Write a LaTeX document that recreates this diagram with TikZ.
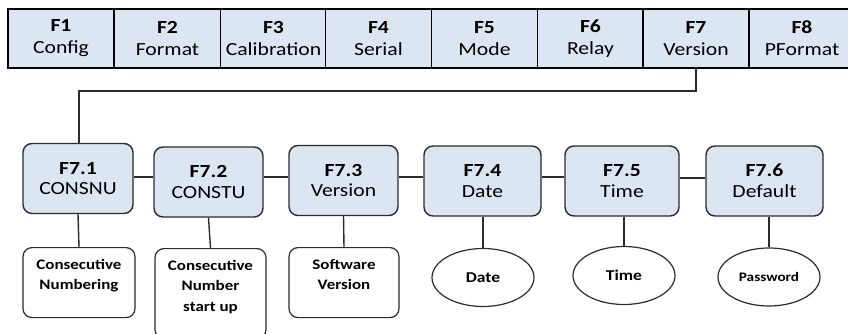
\documentclass[tikz,border=0pt]{standalone}
\usepackage{fontspec}
\setmainfont{Carlito}[FakeStretch=1.17]
\usetikzlibrary{shapes.geometric}
\definecolor{cellfill}{HTML}{DCE6F2}
\definecolor{edge}{HTML}{2B2B2B}
\tikzset{
  topcell/.style={draw=black, line width=1.4pt, fill=cellfill, minimum width=106pt, minimum height=59pt, inner sep=0pt, align=center, font=\fontsize{18.5}{22}\selectfont},
  subbox/.style={draw=edge, line width=1.4pt, fill=cellfill, rounded corners=9pt, minimum height=70pt, inner sep=0pt, align=center, font=\fontsize{18.5}{20.5}\selectfont},
  leafbox/.style={draw=edge, line width=1.2pt, fill=white, rounded corners=9pt, inner sep=0pt, align=center},
  leaftext/.style={anchor=north, font=\bfseries\fontsize{14.5}{20.5}\selectfont, align=center, inner sep=0pt},
  leafoval/.style={draw=edge, line width=1.2pt, fill=white, ellipse, minimum width=102pt, minimum height=58pt, inner sep=0pt, align=center, font=\bfseries\fontsize{15}{16}\selectfont},
  link/.style={draw=edge, line width=1.4pt}
}
\begin{document}
\begin{tikzpicture}[x=1pt,y=-1pt]
\useasboundingbox (0,0) rectangle (848,334);
\clip (0,0) rectangle (848,334);
% top bar
\node[topcell] (f1) at (61,38.5) {\textbf{F1}\\Config};
\node[topcell] (f2) at (167.5,38.5) {\textbf{F2}\\Format};
\node[topcell] (f3) at (273.5,38.5) {\textbf{F3}\\Calibration};
\node[topcell] (f4) at (378.5,38.5) {\textbf{F4}\\Serial};
\node[topcell] (f5) at (484.5,38.5) {\textbf{F5}\\Mode};
\node[topcell] (f6) at (590.5,38.5) {\textbf{F6}\\Relay};
\node[topcell] (f7) at (696,38.5) {\textbf{F7}\\Version};
\node[topcell] (f8) at (802,38.5) {\textbf{F8}\\PFormat};
% second row
\node[subbox, minimum width=110pt] (s1) at (78,178.5) {\textbf{F7.1}\\CONSNU};
\node[subbox, minimum width=109pt] (s2) at (208.5,182) {\textbf{F7.2}\\CONSTU};
\node[subbox, minimum width=109pt] (s3) at (343.5,180.5) {\textbf{F7.3}\\Version};
\node[subbox, minimum width=117pt] (s4) at (482.5,181) {\textbf{F7.4}\\Date};
\node[subbox, minimum width=114pt] (s5) at (622,181) {\textbf{F7.5}\\Time};
\node[subbox, minimum width=117pt] (s6) at (764.5,181) {\textbf{F7.6}\\Default};
% leaves
\node[leafbox, minimum width=112pt, minimum height=70pt, anchor=north] (l1) at (79,247) {};
\node[leaftext] (t1) at (l1.north) [yshift=-12pt] {Consecutive\\Numbering};
\node[leafbox, minimum width=111pt, minimum height=90pt, anchor=north] (l2) at (210.5,248) {};
\node[leaftext] (t2) at (l2.north) [yshift=-12pt] {Consecutive\\Number\\start up};
\node[leafbox, minimum width=110pt, minimum height=70pt, anchor=north] (l3) at (344,247) {};
\node[leaftext] (t3) at (l3.north) [yshift=-12pt] {Software\\Version};
\node[leafoval] (o4) at (483,277.5) {Date};
\node[leafoval] (o5) at (624,275.5) {Time};
\node[leafoval, font=\bfseries\fontsize{13}{14}\selectfont] (o6) at (769,277) {Password};
% connectors
\coordinate (j1) at (696,91);
\coordinate (j2) at (79,91);
\draw[link] (f7.south) -- (j1) -- (j2) -- (j2 |- s1.north);
\draw[link] (s1.east |- 0,177) -- (s2.west |- 0,177);
\draw[link] (s2.east |- 0,177) -- (s3.west |- 0,177);
\draw[link] (s3.east |- 0,177) -- (s4.west |- 0,177);
\draw[link] (s4.east |- 0,177) -- (s5.west |- 0,177);
\draw[link] (s5.east |- 0,178) -- (s6.west |- 0,178);
\draw[link] (s1.south) -- (l1.north);
\draw[link] (s2.south) -- (l2.north);
\draw[link] (s3.south) -- (l3.north);
\draw[link] (s4.south -| o4.north) -- (o4.north);
\draw[link] (s5.south -| o5.north) -- (o5.north);
\draw[link] (s6.south -| o6.north) -- (o6.north);
\end{tikzpicture}
\end{document}
